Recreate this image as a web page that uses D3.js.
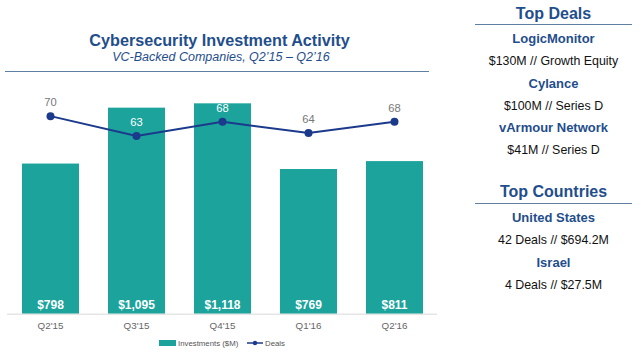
<!DOCTYPE html>
<html><head><meta charset="utf-8">
<script src="https://cdn.jsdelivr.net/npm/d3@7"></script>
<style>
html,body{margin:0;padding:0;background:#fff;}
svg{display:block;font-family:"Liberation Sans",Arial,Helvetica,sans-serif;}
</style></head>
<body><svg id="c" width="640" height="355"></svg>
<script>
const quarters = ["Q2'15","Q3'15","Q4'15","Q1'16","Q2'16"];
const investments = [798,1095,1118,769,811];
const investmentLabels = ["$798","$1,095","$1,118","$769","$811"];
const deals = [70,63,68,64,68];
const dealLabelInside = [false,true,true,false,false];
const topDealNames = ["LogicMonitor","Cylance","vArmour Network"];
const topDealDetails = ["$130M // Growth Equity","$100M // Series D","$41M // Series D"];
const topCountryNames = ["United States","Israel"];
const topCountryDetails = ["42 Deals // $694.2M","4 Deals // $27.5M"];

const teal = "#1ba39c", navy = "#1b3a8c", blue = "#1f4e8c", gray = "#666";
const svg = d3.select("#c");

// Title
svg.append("text").attr("x",219.5).attr("y",46).attr("text-anchor","middle")
  .attr("font-size",16.2).attr("font-weight","bold").attr("fill",blue)
  .text("Cybersecurity Investment Activity");
svg.append("text").attr("x",221).attr("y",60.5).attr("text-anchor","middle")
  .attr("font-size",12.5).attr("font-style","italic").attr("fill",blue)
  .text("VC-Backed Companies, Q2\u201915 \u2013 Q2\u201916");
svg.append("line").attr("x1",5).attr("x2",429).attr("y1",71.5).attr("y2",71.5)
  .attr("stroke","#5f7fa3").attr("stroke-width",1.2);

// Scales
const plotBase = 313.7, plotTop = 87.9;
const x = d3.scaleBand().domain(quarters).range([7.5,437.5]).paddingInner(0.337).paddingOuter(0.1685);
const yBar = d3.scaleLinear().domain([0,1200]).range([plotBase,plotTop]);
const yDeal = d3.scaleLinear().domain([0,80]).range([plotBase,plotTop]);

// Bars
svg.append("g").selectAll("rect").data(investments).join("rect")
  .attr("x",(d,i)=>x(quarters[i])).attr("width",x.bandwidth())
  .attr("y",d=>yBar(d)).attr("height",d=>plotBase-yBar(d)).attr("fill",teal);

// Baseline axis
const xAxis = d3.axisBottom(x).tickSize(0).tickPadding(8);
const ax = svg.append("g").attr("transform",`translate(0,${plotBase})`).call(xAxis);
ax.select(".domain").attr("stroke","#d9d9d9").attr("d","M7,0.5H437");
ax.selectAll("text").attr("font-size",9.8).attr("fill",gray)
  .attr("font-family","Liberation Sans,Arial,sans-serif");

// Bar labels
svg.append("g").selectAll("text").data(investmentLabels).join("text")
  .attr("x",(d,i)=>x(quarters[i])+x.bandwidth()/2).attr("y",309.3)
  .attr("text-anchor","middle").attr("font-size",12).attr("font-weight","bold")
  .attr("fill","#fff").text(d=>d);

// Line
const cx = (d,i)=>x(quarters[i])+x.bandwidth()/2;
const line = d3.line().x((d,i)=>cx(d,i)).y(d=>yDeal(d));
svg.append("path").datum(deals).attr("d",line).attr("fill","none")
  .attr("stroke",navy).attr("stroke-width",2);
svg.append("g").selectAll("circle").data(deals).join("circle")
  .attr("cx",cx).attr("cy",d=>yDeal(d)).attr("r",4).attr("fill",navy);
svg.append("g").selectAll("text").data(deals).join("text")
  .attr("x",cx).attr("y",d=>yDeal(d)-10)
  .attr("text-anchor","middle").attr("font-size",11.2)
  .attr("fill",(d,i)=>dealLabelInside[i]?"#fff":"#777").text(d=>d);

// Legend
const lg = svg.append("g");
lg.append("rect").attr("x",159).attr("y",340).attr("width",17).attr("height",6).attr("fill",teal);
lg.append("text").attr("x",178).attr("y",346).attr("font-size",7.8).attr("fill","#555").text("Investments ($M)");
lg.append("line").attr("x1",247).attr("x2",263).attr("y1",343).attr("y2",343).attr("stroke",navy).attr("stroke-width",1.5);
lg.append("circle").attr("cx",255).attr("cy",343).attr("r",2.2).attr("fill",navy);
lg.append("text").attr("x",265).attr("y",346).attr("font-size",7.8).attr("fill","#555").text("Deals");

// Right panel
const pc = 553.5;
function header(txt,y,ruleY){
  svg.append("text").attr("x",pc).attr("y",y).attr("text-anchor","middle")
    .attr("font-size",16).attr("font-weight","bold").attr("fill",blue).text(txt);
  svg.append("line").attr("x1",475).attr("x2",632).attr("y1",ruleY).attr("y2",ruleY)
    .attr("stroke","#5f7fa3").attr("stroke-width",1.2);
}
function entries(names,details,y0){
  names.forEach((n,i)=>{
    const y = y0 + i*44.5;
    svg.append("text").attr("x",pc).attr("y",y).attr("text-anchor","middle")
      .attr("font-size",13).attr("font-weight","bold").attr("fill",blue).text(n);
    svg.append("text").attr("x",pc).attr("y",y+22).attr("text-anchor","middle")
      .attr("font-size",12.4).attr("fill","#111").text(details[i]);
  });
}
header("Top Deals",18.5,24.5);
entries(topDealNames,topDealDetails,43.3);
header("Top Countries",196.5,203.5);
entries(topCountryNames,topCountryDetails,222.3);
</script></body></html>
